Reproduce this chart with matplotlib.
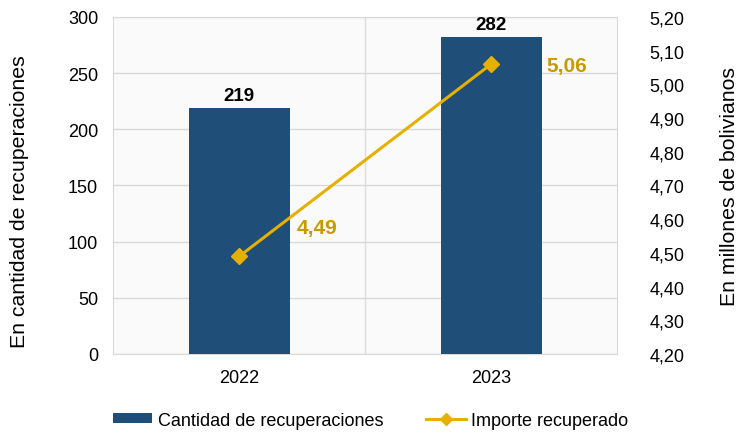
import matplotlib.pyplot as plt
from matplotlib.lines import Line2D
from matplotlib.patches import Patch

plt.rcParams['font.family'] = ['Liberation Sans', 'DejaVu Sans']

years = ['2022', '2023']
cantidad = [219, 282]
importe = [4.49, 5.06]
left_ticks = [0, 50, 100, 150, 200, 250, 300]
right_ticks = [4.2, 4.3, 4.4, 4.5, 4.6, 4.7, 4.8, 4.9, 5.0, 5.1, 5.2]

bar_color = '#1F4E79'
line_color = '#E6B000'
label_color = '#C99A00'

fig = plt.figure(figsize=(7.41, 4.35), dpi=100)
ax = fig.add_axes([0.153, 0.184, 0.680, 0.775])
ax.set_facecolor('#FAFAFA')
x = list(range(len(years)))

ax.bar(x, cantidad, width=0.40, color=bar_color, zorder=3)
for xi, v in zip(x, cantidad):
    ax.annotate(str(v), (xi, v), xytext=(0, 3), textcoords='offset points',
                ha='center', va='bottom', fontsize=13.5, fontweight='bold', color='black')

ax.set_xlim(-0.5, 1.5)
ax.set_ylim(0, 300)
ax.set_yticks(left_ticks)
ax.set_xticks(x)
ax.set_xticklabels(years)
ax.set_xticks([0.5], minor=True)
ax.grid(axis='y', color='#D9D9D9', linewidth=1, zorder=0)
ax.grid(axis='x', which='minor', color='#DDDDDD', linewidth=1, zorder=0)
ax.tick_params(axis='y', which='both', length=0, labelsize=13, pad=11)
ax.tick_params(axis='x', which='both', length=0, labelsize=13, pad=11)
for s in ax.spines.values():
    s.set_color('#D9D9D9')
ax.set_ylabel('En cantidad de recuperaciones', fontsize=15.3)
ax.yaxis.set_label_coords(-0.168, 0.455)

ax2 = ax.twinx()
ax2.plot(x, importe, color=line_color, linewidth=2.2, marker='D', markersize=8.5, zorder=4)
ax2.set_ylim(4.2, 5.2)
ax2.set_yticks(right_ticks)
ax2.set_yticklabels([f'{t:.2f}'.replace('.', ',') for t in right_ticks])
ax2.tick_params(axis='y', length=0, labelsize=13, pad=23)
for s in ax2.spines.values():
    s.set_visible(False)
ax2.set_ylabel('En millones de bolivianos', fontsize=15.3)
ax2.yaxis.set_label_coords(1.204, 0.5)

offsets = [(41, 21), (40, -1)]
for xi, v, off in zip(x, importe, offsets):
    ax2.annotate(f'{v:.2f}'.replace('.', ','), (xi, v), xytext=off, textcoords='offset points',
                 ha='left', va='center', fontsize=15, fontweight='bold', color=label_color)

handles = [Patch(facecolor=bar_color, label='Cantidad de recuperaciones'),
           Line2D([0], [0], color=line_color, linewidth=2.2, marker='D', markersize=6,
                  label='Importe recuperado')]
fig.legend(handles=handles, loc='center', bbox_to_anchor=(0.5, 0.032), ncol=2,
           frameon=False, fontsize=13, handlelength=2.2, handleheight=0.45,
           columnspacing=2.4, handletextpad=0.28)

fig.savefig('out.png', dpi=100)
